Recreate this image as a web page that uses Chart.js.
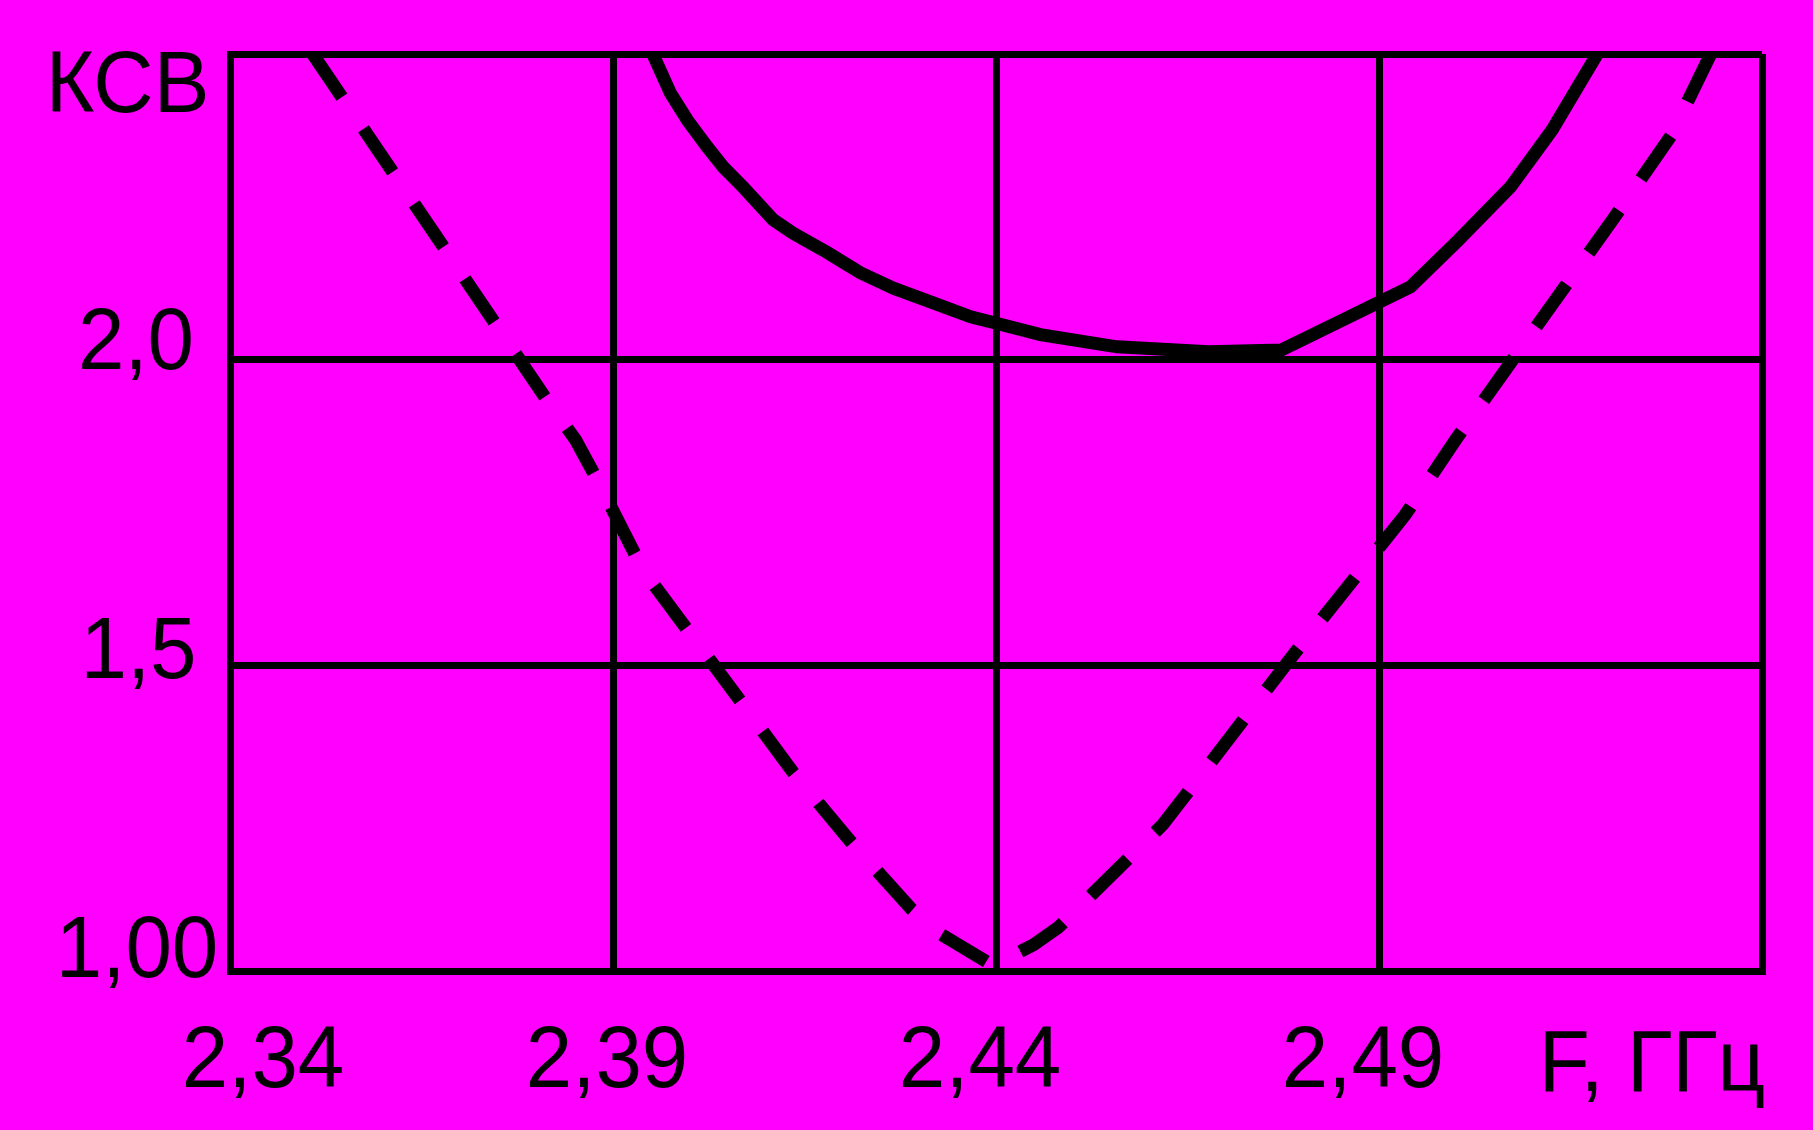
<!DOCTYPE html>
<html>
<head>
<meta charset="utf-8">
<script src="https://cdn.jsdelivr.net/npm/chart.js@4/dist/chart.umd.min.js"></script>
<style>
  html, body { margin: 0; padding: 0; background: rgb(255, 0, 255); }
  #wrap { width: 1813px; height: 1130px; position: relative; }
</style>
</head>
<body>
<div id="wrap"><canvas id="myChart"></canvas></div>
<script>
// tick values and their labels
const xTickValues = [2.34, 2.39, 2.44, 2.49, 2.54];
const xTickLabels = ["2,34", "2,39", "2,44", "2,49", "F, ГГц"];
const yTickValues = [1.0, 1.5, 2.0, 2.5];
const yTickLabels = ["1,00", "1,5", "2,0", "КСВ"];

// dashed curve: frequency (GHz) and VSWR
const dashedFreq = [2.3508, 2.3674, 2.3811, 2.3851, 2.3883, 2.3939, 2.4065, 2.4135, 2.4210, 2.4289, 2.4327,
  2.4396, 2.4449, 2.4481, 2.4618, 2.4676, 2.4788, 2.4934, 2.5000, 2.5205, 2.5281, 2.5333];
const dashedKsv = [2.500, 2.193, 1.939, 1.869, 1.795, 1.656, 1.444, 1.325, 1.212, 1.102, 1.061,
  1.009, 1.043, 1.071, 1.240, 1.334, 1.517, 1.746, 1.869, 2.229, 2.366, 2.500];

// solid curve
const solidFreq = [2.3952, 2.3975, 2.3997, 2.4023, 2.4044, 2.4070, 2.4109, 2.4135, 2.4180, 2.4223, 2.4266,
  2.4318, 2.4367, 2.4399, 2.4458, 2.4558, 2.4678, 2.4773, 2.4941, 2.5004, 2.5072, 2.5126, 2.5185];
const solidKsv = [2.500, 2.436, 2.392, 2.348, 2.315, 2.282, 2.229, 2.207, 2.175, 2.142, 2.117,
  2.093, 2.070, 2.060, 2.041, 2.021, 2.013, 2.016, 2.119, 2.196, 2.283, 2.376, 2.500];

// label placement (pixels)
const xLabelDx = [33, -6, -16, -16, -110];
const xLabelBaseline = [116, 116, 116, 116, 120];
const yLabelX = [137, 138.5, 136, 127.5];
const yLabelDy = [6, 13, 9, 58];

const labelFont = '87px "Liberation Sans", Arial, sans-serif';

function toPoints(xs, ys) {
  return xs.map((x, i) => ({ x: x, y: ys[i] }));
}

function drawLabel(c, text, x, y) {
  c.save();
  c.translate(x, y);
  c.scale(0.96, 1);
  c.fillText(text, 0, 0);
  c.restore();
}

const axisLabels = {
  id: "axisLabels",
  afterDraw(chart) {
    const c = chart.ctx;
    const xs = chart.scales.x;
    const ys = chart.scales.y;
    c.save();
    c.fillStyle = "#000";
    c.font = labelFont;
    c.textAlign = "center";
    c.textBaseline = "alphabetic";
    xTickValues.forEach((v, i) => {
      drawLabel(c, xTickLabels[i], xs.getPixelForValue(v) + xLabelDx[i], chart.chartArea.bottom + xLabelBaseline[i]);
    });
    yTickValues.forEach((v, i) => {
      drawLabel(c, yTickLabels[i], yLabelX[i], ys.getPixelForValue(v) + yLabelDy[i]);
    });
    c.restore();
  },
};

const ctx = document.getElementById("myChart");

new Chart(ctx, {
  type: "line",
  data: {
    datasets: [
      {
        label: "dashed",
        data: toPoints(dashedFreq, dashedKsv),
        borderColor: "#000",
        borderWidth: 13,
        borderDash: [52, 38.5],
        borderCapStyle: "butt",
        pointRadius: 0,
        tension: 0,
        fill: false,
      },
      {
        label: "solid",
        data: toPoints(solidFreq, solidKsv),
        borderColor: "#000",
        borderWidth: 13,
        pointRadius: 0,
        tension: 0,
        fill: false,
      },
    ],
  },
  options: {
    responsive: true,
    maintainAspectRatio: false,
    animation: false,
    layout: {
      padding: { left: 230, right: 51, top: 54, bottom: 159 },
    },
    plugins: {
      legend: { display: false },
      tooltip: { enabled: false },
    },
    scales: {
      x: {
        type: "linear",
        min: 2.34,
        max: 2.54,
        afterBuildTicks: (axis) => {
          axis.ticks = xTickValues.map((v) => ({ value: v }));
        },
        ticks: { display: false },
        grid: { color: "#000", lineWidth: 7, drawTicks: false },
        border: { color: "#000", width: 7 },
      },
      y: {
        min: 1,
        max: 2.5,
        afterBuildTicks: (axis) => {
          axis.ticks = yTickValues.map((v) => ({ value: v }));
        },
        ticks: { display: false },
        grid: { color: "#000", lineWidth: 7, drawTicks: false },
        border: { color: "#000", width: 7 },
      },
    },
  },
  plugins: [axisLabels],
});
</script>
</body>
</html>
